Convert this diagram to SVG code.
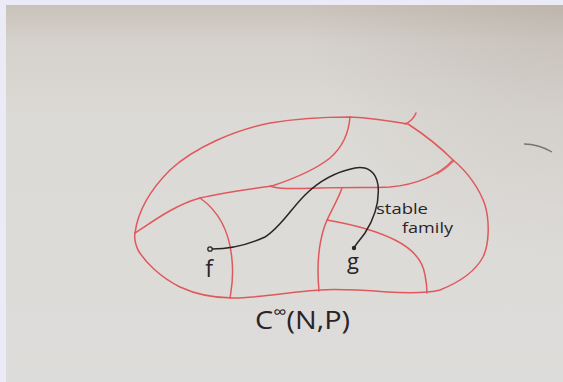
<svg xmlns="http://www.w3.org/2000/svg" width="563" height="382" viewBox="0 0 563 382">
  <defs>
    <linearGradient id="paper" x1="0" y1="0" x2="0" y2="1">
      <stop offset="0" stop-color="#c9c2ba"/>
      <stop offset="0.1" stop-color="#d5d1cc"/>
      <stop offset="0.3" stop-color="#dcdad6"/>
      <stop offset="1" stop-color="#dcdcda"/>
    </linearGradient>
    <radialGradient id="shade" cx="563" cy="0" r="260" gradientUnits="userSpaceOnUse">
      <stop offset="0" stop-color="#8a7a6a" stop-opacity="0.18"/>
      <stop offset="1" stop-color="#8a7a6a" stop-opacity="0"/>
    </radialGradient>
    <style>
      .red { fill: none; stroke: #e0585c; stroke-width: 1.5; stroke-linecap: round; stroke-linejoin: round; }
      .ink { fill: none; stroke: #2a2328; stroke-width: 1.5; stroke-linecap: round; }
      .txt { fill: #2a2328; font-family: "Open Sans", "DejaVu Sans", sans-serif; }
    </style>
  </defs>

  <rect x="0" y="0" width="563" height="382" fill="#ebebf7"/>
  <rect x="6" y="5" width="557" height="377" fill="url(#paper)"/>
  <rect x="6" y="5" width="557" height="377" fill="url(#shade)"/>

  <!-- stray pencil mark -->
  <path d="M524,144 C536,144 545,148 552,152" fill="none" stroke="#4a4a4a" stroke-width="1.3" opacity="0.7"/>

  <g id="space-boundary">
    <path class="red" d="M135,233 C138,210 150,190 170,170 C195,147 235,130 270,123 C300,118 330,117 350,117 C370,118 390,121 408,124 C425,135 443,150 453,160 C468,172 480,190 485,205 C490,222 489,245 483,257 C475,272 460,282 440,290 C425,294 405,293 387,292 C360,290 335,289 320,290 C295,291 260,298 233,298 C210,298 195,294 180,287 C160,277 145,262 138,250 C135,243 134,238 135,233 Z"/>
    <path class="red" d="M405,124 C410,122 414,118 416,113"/>
  </g>

  <g id="strata">
    <path class="red" d="M350,117 C349,130 345,145 330,158 C315,170 290,180 272,186"/>
    <path class="red" d="M135,233 C155,220 175,205 200,198 C225,192 250,189 272,186"/>
    <path class="red" d="M270,186 C278,189 290,189 320,188 C350,187 370,188 390,187 C415,185 440,175 453,160"/>
    <path class="red" d="M437,174 C444,170 450,165 454,161" opacity="0.7"/>
    <path class="red" d="M200,198 C220,212 230,235 232,260 C234,280 231,290 230,298"/>
    <path class="red" d="M342,188 C338,200 330,212 325,225 C318,245 317,270 319,291"/>
    <path class="red" d="M327,220 C350,224 375,230 395,240 C415,250 423,262 425,275 C427,285 427,290 427,293"/>
  </g>

  <g id="connectors">
    <path id="stable-family" class="ink" d="M212,249 C225,249 245,246 265,237 C280,228 290,210 305,195 C320,180 335,172 355,168 C368,166 376,172 378,185 C380,205 372,222 365,233 C360,240 356,244 354,248"/>
  </g>

  <g id="node-f">
    <circle cx="210" cy="249" r="2.2" fill="#dcdad6" stroke="#2a2328" stroke-width="1.3"/>
    <text class="txt" x="209" y="277" font-size="23" text-anchor="middle">f</text>
  </g>

  <g id="node-g">
    <circle cx="354" cy="248" r="2.2" fill="#2a2328"/>
    <text class="txt" x="353" y="269" font-size="22" text-anchor="middle">g</text>
  </g>

  <g id="label-stable-family">
    <text class="txt" x="376" y="214" font-size="15" textLength="52" lengthAdjust="spacingAndGlyphs">stable</text>
    <text class="txt" x="402" y="233" font-size="15" textLength="51" lengthAdjust="spacingAndGlyphs">family</text>
  </g>

  <g id="label-space">
    <text class="txt" x="255" y="329" font-size="26" textLength="95" lengthAdjust="spacingAndGlyphs">C<tspan font-size="17" baseline-shift="super">∞</tspan>(N,P)</text>
  </g>
</svg>
